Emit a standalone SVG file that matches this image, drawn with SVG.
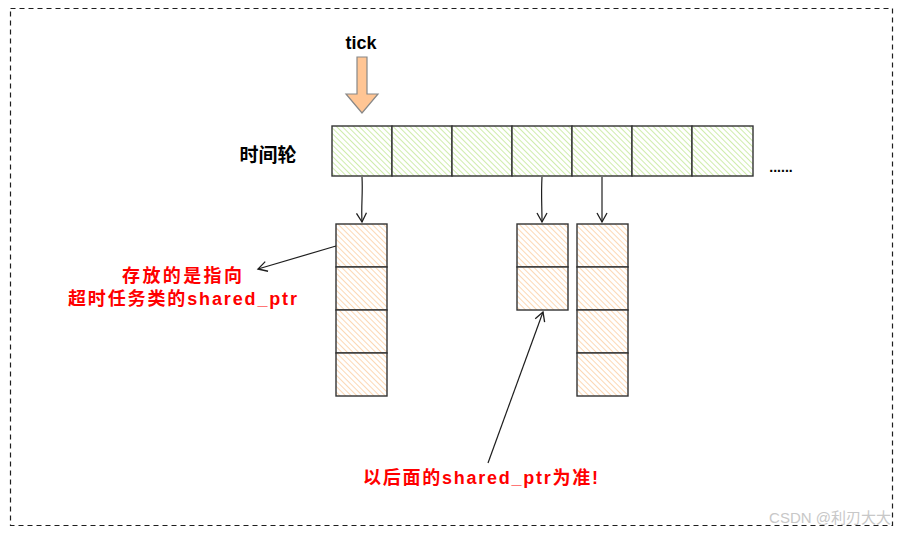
<svg xmlns="http://www.w3.org/2000/svg" width="903" height="534" viewBox="0 0 903 534">
<defs>
<pattern id="hg" patternUnits="userSpaceOnUse" width="4" height="4" patternTransform="rotate(-45)">
<rect width="4" height="4" fill="#ffffff"/>
<line x1="0" y1="0" x2="0" y2="4" stroke="#bfe690" stroke-width="1.5"/>
</pattern>
<pattern id="ho" patternUnits="userSpaceOnUse" width="4" height="4" patternTransform="rotate(-45)">
<rect width="4" height="4" fill="#ffffff"/>
<line x1="0" y1="0" x2="0" y2="4" stroke="#fccc9c" stroke-width="1.5"/>
</pattern>
<marker id="ah" markerWidth="12" markerHeight="12" refX="10" refY="6" orient="auto" markerUnits="userSpaceOnUse">
<path d="M1,1 L10,6 L1,11" fill="none" stroke="#1e1e1e" stroke-width="1.3"/>
</marker>
</defs>
<style>
.wc{fill:url(#hg);stroke:#333;stroke-width:1.4}
.sc{fill:url(#ho);stroke:#333;stroke-width:1.4}
.lbl{font-family:"Liberation Sans","Noto Sans CJK SC",sans-serif;font-weight:bold}
.red{fill:#ff0000;font-size:18px}
.conn{stroke:#1e1e1e;stroke-width:1.2;fill:none}
</style>
<rect width="903" height="534" fill="#ffffff"/>
<rect x="10.5" y="8.5" width="882" height="517" fill="none" stroke="#1e1e1e" stroke-width="1.2" stroke-dasharray="5,4"/>

<g id="tick">
<text x="361" y="49" text-anchor="middle" class="lbl" font-size="18" fill="#000">tick</text>
<path d="M357,57 L367,57 L367,94 L378,94 L362,113 L346,94 L357,94 Z" fill="#ffc594" stroke="#888" stroke-width="1.2"/>
</g>

<g id="wheel-label"><text x="268" y="162" text-anchor="middle" class="lbl" font-size="19" fill="#000">时间轮</text></g>

<g id="wheel">
<rect class="wc" x="332" y="126" width="60" height="50"/>
<rect class="wc" x="392" y="126" width="60" height="50"/>
<rect class="wc" x="452" y="126" width="60" height="50"/>
<rect class="wc" x="512" y="126" width="60" height="50"/>
<rect class="wc" x="572" y="126" width="60" height="50"/>
<rect class="wc" x="632" y="126" width="60" height="50"/>
<rect class="wc" x="692" y="126" width="61" height="50"/>
</g>
<g id="dots"><text x="781" y="172" text-anchor="middle" class="lbl" font-size="14" fill="#000">......</text></g>

<g id="stack1">
<rect class="sc" x="336" y="224" width="51" height="43"/>
<rect class="sc" x="336" y="267" width="51" height="43"/>
<rect class="sc" x="336" y="310" width="51" height="43"/>
<rect class="sc" x="336" y="353" width="51" height="43"/>
</g>
<g id="stack2">
<rect class="sc" x="517" y="224" width="51" height="43"/>
<rect class="sc" x="517" y="267" width="51" height="43"/>
</g>
<g id="stack3">
<rect class="sc" x="577" y="224" width="51" height="43"/>
<rect class="sc" x="577" y="267" width="51" height="43"/>
<rect class="sc" x="577" y="310" width="51" height="43"/>
<rect class="sc" x="577" y="353" width="51" height="43"/>
</g>

<g id="connectors">
<path class="conn" d="M362,177 C363,195 361,205 362,222" marker-end="url(#ah)"/>
<path class="conn" d="M542,177 C541,195 542,205 542,222" marker-end="url(#ah)"/>
<path class="conn" d="M602,177 L602,222" marker-end="url(#ah)"/>
<path class="conn" d="M336,246 L258,269" marker-end="url(#ah)"/>
<path class="conn" d="M488,463 L543,312" marker-end="url(#ah)"/>
</g>

<g id="note1">
<text x="122" y="282" textLength="120" lengthAdjust="spacing" class="lbl red">存放的是指向</text>
<text x="68" y="305" textLength="229" lengthAdjust="spacing" class="lbl red">超时任务类的shared_ptr</text>
</g>
<g id="note2">
<text x="363" y="484" textLength="235" lengthAdjust="spacing" class="lbl red">以后面的shared_ptr为准!</text>
</g>
<g id="watermark"><text x="830" y="523" text-anchor="middle" font-family="Liberation Sans,'Noto Sans CJK SC',sans-serif" font-size="15" fill="#c8c8c8">CSDN @利刃大大</text></g>
</svg>
